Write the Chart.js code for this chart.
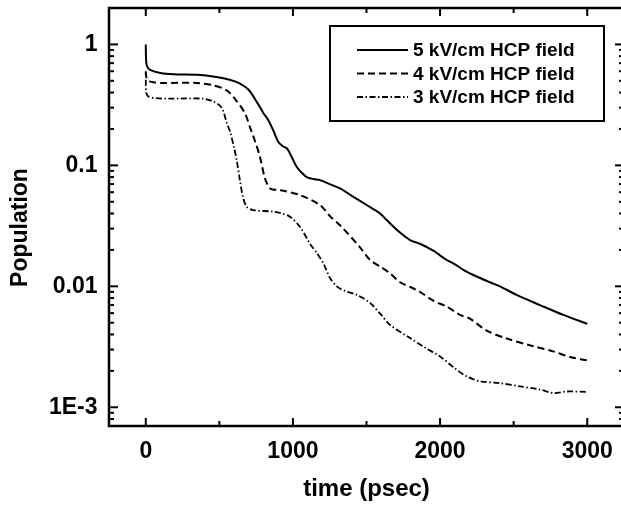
<!DOCTYPE html>
<html><head><meta charset="utf-8">
<script src="https://cdn.jsdelivr.net/npm/chart.js@4.4.1/dist/chart.umd.min.js"></script>
<style>html,body{margin:0;padding:0;overflow:hidden;background:#fff;width:621px;height:506px}canvas{display:block}</style>
</head><body><canvas id="c" width="627" height="506"></canvas>
<script>
const seriesLabels = ['5 kV/cm HCP field', '4 kV/cm HCP field', '3 kV/cm HCP field'];

const t5 = [0, 2, 8, 30, 100, 190, 350, 480, 570, 640, 700, 754, 800, 833, 870, 901, 935, 962, 995, 1026, 1060, 1094, 1140, 1184, 1250, 1320, 1400, 1501, 1592, 1637, 1728, 1796, 1863, 1954, 2045, 2090, 2158, 2226, 2339, 2407, 2520, 2679, 2837, 3000];
const v5 = [1, 0.75, 0.66, 0.615, 0.58, 0.566, 0.56, 0.537, 0.51, 0.475, 0.42, 0.335, 0.27, 0.236, 0.19, 0.156, 0.143, 0.137, 0.115, 0.097, 0.087, 0.080, 0.077, 0.0755, 0.07, 0.0645, 0.056, 0.047, 0.040, 0.0353, 0.0278, 0.0241, 0.0225, 0.0197, 0.0165, 0.0155, 0.0137, 0.0124, 0.0108, 0.0100, 0.0085, 0.0070, 0.0058, 0.0049];

const t4 = [0, 3, 20, 60, 120, 346, 459, 550, 618, 675, 709, 745, 776, 810, 845, 900, 935, 1048, 1184, 1252, 1320, 1456, 1524, 1592, 1660, 1728, 1796, 1863, 1954, 2045, 2135, 2203, 2317, 2452, 2633, 2769, 2883, 3000];
const v4 = [0.6, 0.54, 0.5, 0.485, 0.48, 0.48, 0.459, 0.417, 0.34, 0.268, 0.205, 0.155, 0.1175, 0.078, 0.0645, 0.0625, 0.0616, 0.0568, 0.047, 0.038, 0.032, 0.021, 0.0165, 0.0146, 0.0128, 0.0108, 0.0099, 0.0090, 0.0076, 0.0068, 0.0058, 0.0054, 0.0043, 0.0037, 0.0032, 0.0029, 0.0026, 0.00244];

const t3 = [0, 3, 20, 60, 150, 391, 459, 505, 527, 550, 573, 600, 618, 640, 660, 686, 731, 867, 930, 980, 1048, 1116, 1160, 1207, 1252, 1298, 1350, 1433, 1524, 1600, 1660, 1796, 1900, 2000, 2100, 2181, 2271, 2407, 2542, 2679, 2769, 2860, 3000];
const v3 = [0.51, 0.40, 0.37, 0.36, 0.356, 0.356, 0.337, 0.31, 0.28, 0.225, 0.19, 0.14, 0.11, 0.075, 0.055, 0.0455, 0.0427, 0.0414, 0.0398, 0.0376, 0.031, 0.0225, 0.019, 0.0155, 0.0117, 0.0100, 0.0092, 0.0085, 0.0073, 0.0058, 0.0048, 0.00373, 0.0031, 0.00263, 0.0021, 0.0018, 0.00164, 0.00158, 0.00149, 0.0014, 0.00131, 0.00135, 0.00134];

const xMajorTicks = [0, 1000, 2000, 3000];
const xMinorTicks = [500, 1500, 2500];
const yTickValues = [1e-3, 1e-2, 1e-1, 1];
const yTickLabels = ['1E-3', '0.01', '0.1', '1'];

const FONT = "'Liberation Sans', Arial, Helvetica, sans-serif";
const pts = (t, v) => t.map((x, i) => ({x: x, y: v[i]}));

const framePlugin = {
  id: 'frame',
  afterLayout(chart) {
    // shift the vertical title's reference box down a little
    chart.scales.y.bottom += 21;
  },
  afterDraw(chart) {
    const {ctx, chartArea: a, scales: {x, y}} = chart;
    ctx.save();
    ctx.strokeStyle = '#000';
    ctx.lineCap = 'butt';
    const seg = (x1, y1, x2, y2) => { ctx.beginPath(); ctx.moveTo(x1, y1); ctx.lineTo(x2, y2); ctx.stroke(); };
    ctx.lineWidth = 2;
    xMajorTicks.forEach(v => { const p = x.getPixelForValue(v); seg(p, a.bottom, p, a.bottom - 8); seg(p, a.top, p, a.top + 8); });
    xMinorTicks.forEach(v => { const p = x.getPixelForValue(v); seg(p, a.bottom, p, a.bottom - 5); seg(p, a.top, p, a.top + 5); });
    for (let d = -4; d <= 0; d++) {
      for (let m = 1; m <= 9; m++) {
        const val = m * Math.pow(10, d);
        if (val < y.min || val > y.max) continue;
        const p = y.getPixelForValue(val);
        const len = m === 1 ? 9 : 5;
        seg(a.left, p, a.left + len, p);
        seg(a.right, p, a.right - len, p);
      }
    }
    ctx.lineWidth = 2.5;
    ctx.strokeRect(a.left, a.top, a.right - a.left, a.bottom - a.top);
    // legend
    ctx.lineWidth = 2;
    ctx.strokeRect(330, 26, 274, 95);
    const rows = [50, 73.5, 97];
    ctx.font = 'bold 19px ' + FONT;
    ctx.fillStyle = '#000';
    ctx.textBaseline = 'middle';
    ctx.textAlign = 'left';
    chart.data.datasets.forEach((ds, i) => {
      ctx.save();
      ctx.lineWidth = ds.borderWidth;
      ctx.setLineDash(ds.borderDash || []);
      seg(357, rows[i], 408, rows[i]);
      ctx.restore();
      ctx.fillText(ds.label, 413, rows[i] + 1);
    });
    ctx.restore();
  }
};

new Chart(document.getElementById('c'), {
  type: 'line',
  data: {
    datasets: [
      {label: seriesLabels[0], data: pts(t5, v5), borderColor: '#000', borderWidth: 2, borderDash: [], pointRadius: 0, tension: 0.3, fill: false},
      {label: seriesLabels[1], data: pts(t4, v4), borderColor: '#000', borderWidth: 2, borderDash: [7, 4], pointRadius: 0, tension: 0.3, fill: false},
      {label: seriesLabels[2], data: pts(t3, v3), borderColor: '#000', borderWidth: 1.8, borderDash: [6, 2.5, 1.5, 2.5], pointRadius: 0, tension: 0.3, fill: false}
    ]
  },
  options: {
    responsive: false,
    animation: false,
    devicePixelRatio: 1,
    layout: {padding: {left: 0, right: 3, top: 8, bottom: 0}},
    plugins: {legend: {display: false}, tooltip: {enabled: false}},
    scales: {
      x: {
        type: 'linear', min: -250, max: 3250,
        afterBuildTicks: s => { s.ticks = xMajorTicks.map(v => ({value: v})); },
        afterFit: s => { s.height = 80; s.paddingLeft = 0; s.paddingRight = 0; },
        grid: {display: false, drawTicks: false},
        border: {display: false},
        ticks: {color: '#000', padding: 12, autoSkip: false, maxRotation: 0, font: {family: FONT, size: 23, weight: 'bold'}, callback: v => String(v)},
        title: {display: true, text: 'time (psec)', color: '#000', padding: {top: 0, bottom: 2}, font: {family: FONT, size: 24, weight: 'bold'}}
      },
      y: {
        type: 'logarithmic', min: 7e-4, max: 2,
        afterBuildTicks: s => { s.ticks = yTickValues.map(v => ({value: v})); },
        afterFit: s => { s.width = 109; s.paddingTop = 0; s.paddingBottom = 0; },
        grid: {display: false, drawTicks: false},
        border: {display: false},
        ticks: {color: '#000', padding: 11.5, autoSkip: false, font: {family: FONT, size: 23, weight: 'bold'}, callback: (v, i) => yTickLabels[i]},
        title: {display: true, text: 'Population', color: '#000', padding: {top: 7, bottom: 0}, font: {family: FONT, size: 23, weight: 'bold'}}
      }
    }
  },
  plugins: [framePlugin]
});
</script></body></html>
